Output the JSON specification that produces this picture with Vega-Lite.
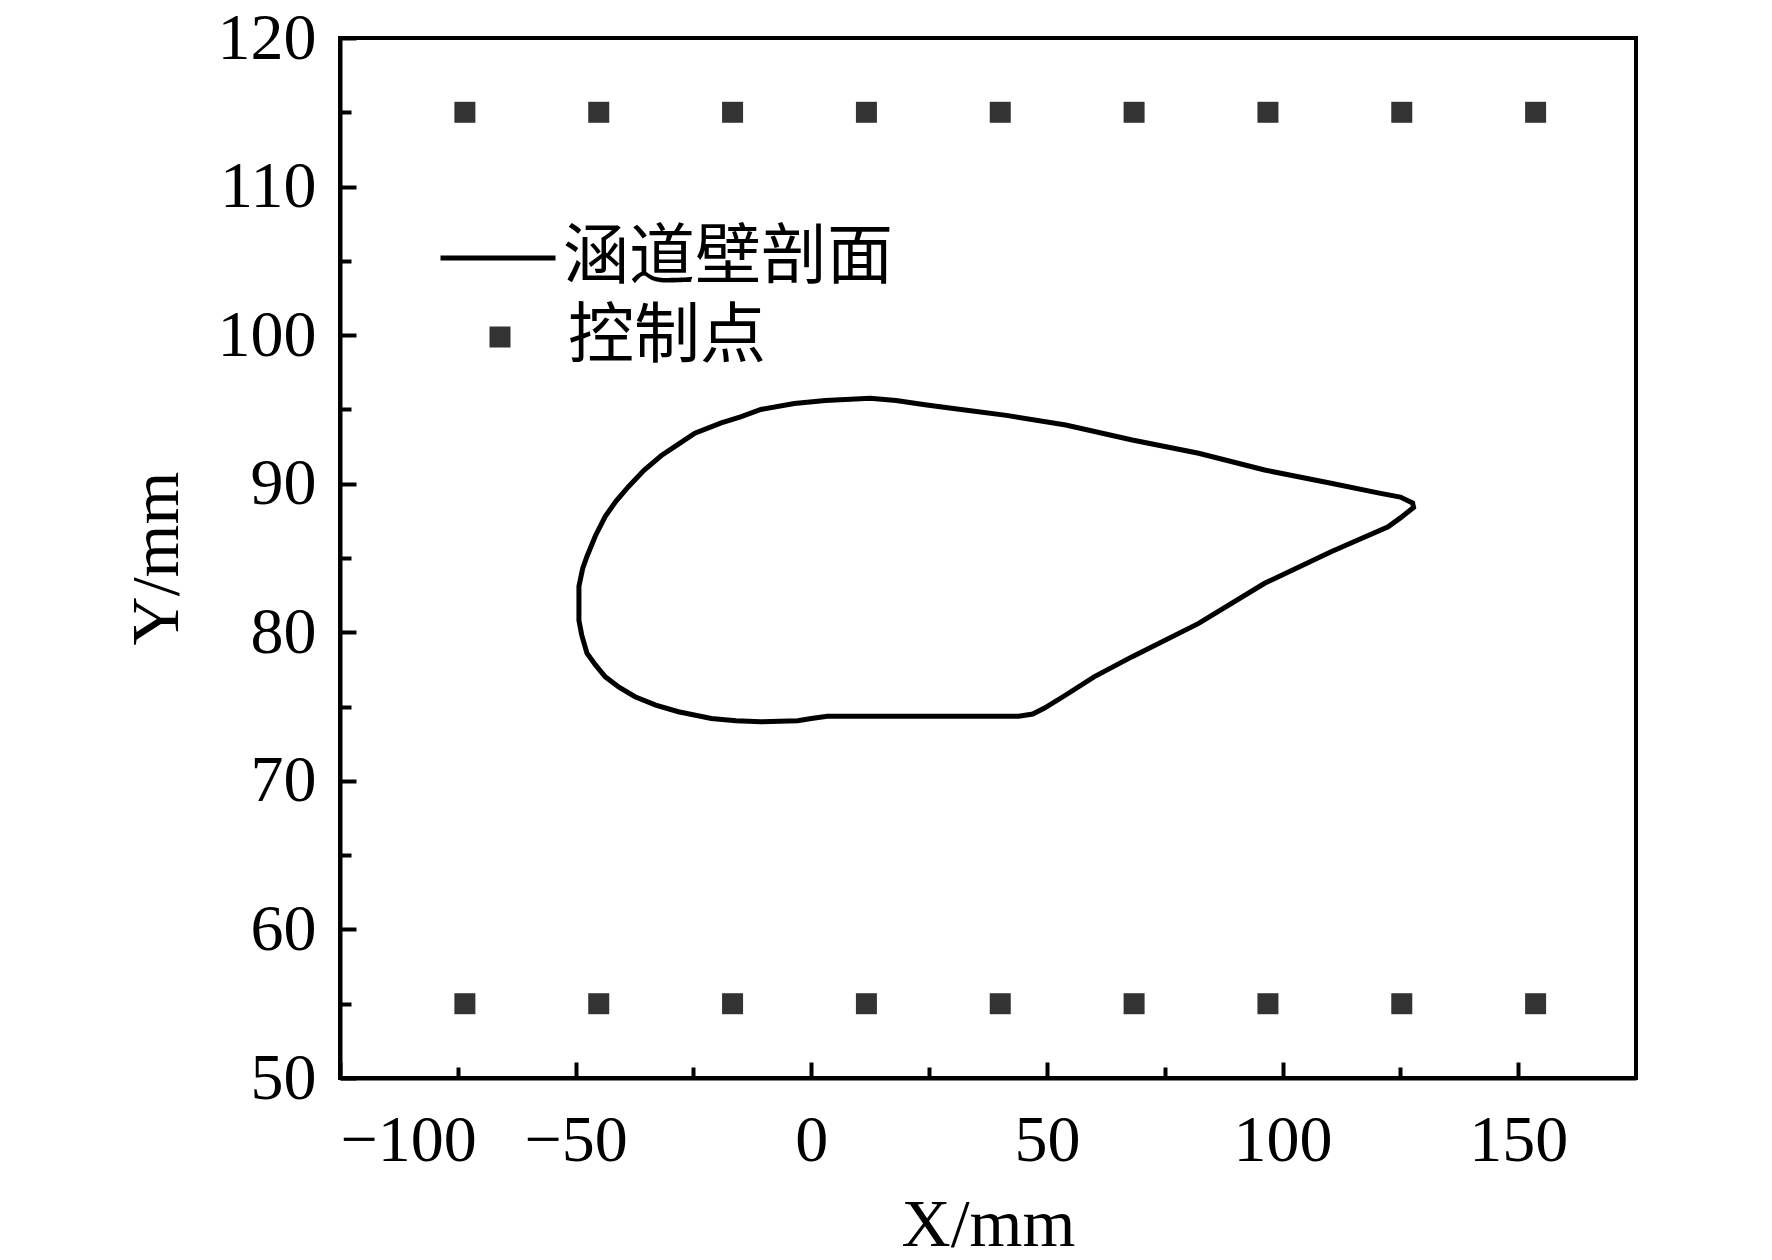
{
  "$schema": "https://vega.github.io/schema/vega-lite/v6.json",
  "width": 1296,
  "height": 1040,
  "autosize": {"type": "none"},
  "padding": {"left": 340, "top": 38, "right": 136, "bottom": 182},
  "background": "white",
  "config": {
    "view": {"stroke": "black", "strokeWidth": 4},
    "axis": {
      "grid": false,
      "domainColor": "black",
      "domainWidth": 4,
      "tickColor": "black",
      "tickWidth": 4,
      "labelFont": "Liberation Serif",
      "labelFontSize": 66,
      "labelColor": "black",
      "titleFont": "Liberation Serif",
      "titleFontSize": 68,
      "titleFontWeight": "normal",
      "titleColor": "black"
    },
    "legend": {
      "labelFont": "Noto Sans CJK SC",
      "labelFontSize": 66,
      "labelColor": "black",
      "labelLimit": 0,
      "padding": 0
    }
  },
  "datasets": {
    "wall": [
      {"i": 1, "x": -49.3, "y": 82.0, "s": "涵道壁剖面"},
      {"i": 2, "x": -49.3, "y": 83.1, "s": "涵道壁剖面"},
      {"i": 3, "x": -48.5, "y": 84.3, "s": "涵道壁剖面"},
      {"i": 4, "x": -47.6, "y": 85.1, "s": "涵道壁剖面"},
      {"i": 5, "x": -45.8, "y": 86.5, "s": "涵道壁剖面"},
      {"i": 6, "x": -43.7, "y": 87.8, "s": "涵道壁剖面"},
      {"i": 7, "x": -41.5, "y": 88.8, "s": "涵道壁剖面"},
      {"i": 8, "x": -38.8, "y": 89.8, "s": "涵道壁剖面"},
      {"i": 9, "x": -35.5, "y": 90.9, "s": "涵道壁剖面"},
      {"i": 10, "x": -31.8, "y": 91.9, "s": "涵道壁剖面"},
      {"i": 11, "x": -28.5, "y": 92.6, "s": "涵道壁剖面"},
      {"i": 12, "x": -24.7, "y": 93.4, "s": "涵道壁剖面"},
      {"i": 13, "x": -19.1, "y": 94.1, "s": "涵道壁剖面"},
      {"i": 14, "x": -15.0, "y": 94.5, "s": "涵道壁剖面"},
      {"i": 15, "x": -10.7, "y": 95.0, "s": "涵道壁剖面"},
      {"i": 16, "x": -3.6, "y": 95.4, "s": "涵道壁剖面"},
      {"i": 17, "x": 3.0, "y": 95.6, "s": "涵道壁剖面"},
      {"i": 18, "x": 12.5, "y": 95.75, "s": "涵道壁剖面"},
      {"i": 19, "x": 18.0, "y": 95.6, "s": "涵道壁剖面"},
      {"i": 20, "x": 24.5, "y": 95.3, "s": "涵道壁剖面"},
      {"i": 21, "x": 33.0, "y": 94.95, "s": "涵道壁剖面"},
      {"i": 22, "x": 41.4, "y": 94.6, "s": "涵道壁剖面"},
      {"i": 23, "x": 54.0, "y": 93.95, "s": "涵道壁剖面"},
      {"i": 24, "x": 68.1, "y": 92.94, "s": "涵道壁剖面"},
      {"i": 25, "x": 82.2, "y": 92.05, "s": "涵道壁剖面"},
      {"i": 26, "x": 96.2, "y": 90.92, "s": "涵道壁剖面"},
      {"i": 27, "x": 110.3, "y": 90.03, "s": "涵道壁剖面"},
      {"i": 28, "x": 120.8, "y": 89.35, "s": "涵道壁剖面"},
      {"i": 29, "x": 125.0, "y": 89.1, "s": "涵道壁剖面"},
      {"i": 30, "x": 127.6, "y": 88.7, "s": "涵道壁剖面"},
      {"i": 31, "x": 127.8, "y": 88.4, "s": "涵道壁剖面"},
      {"i": 32, "x": 125.0, "y": 87.7, "s": "涵道壁剖面"},
      {"i": 33, "x": 122.4, "y": 87.1, "s": "涵道壁剖面"},
      {"i": 34, "x": 110.3, "y": 85.42, "s": "涵道壁剖面"},
      {"i": 35, "x": 96.2, "y": 83.3, "s": "涵道壁剖面"},
      {"i": 36, "x": 82.2, "y": 80.6, "s": "涵道壁剖面"},
      {"i": 37, "x": 68.1, "y": 78.36, "s": "涵道壁剖面"},
      {"i": 38, "x": 60.0, "y": 77.0, "s": "涵道壁剖面"},
      {"i": 39, "x": 54.0, "y": 75.78, "s": "涵道壁剖面"},
      {"i": 40, "x": 49.5, "y": 74.9, "s": "涵道壁剖面"},
      {"i": 41, "x": 47.0, "y": 74.5, "s": "涵道壁剖面"},
      {"i": 42, "x": 44.0, "y": 74.35, "s": "涵道壁剖面"},
      {"i": 43, "x": 30.0, "y": 74.35, "s": "涵道壁剖面"},
      {"i": 44, "x": 15.0, "y": 74.35, "s": "涵道壁剖面"},
      {"i": 45, "x": 3.4, "y": 74.35, "s": "涵道壁剖面"},
      {"i": 46, "x": 0.0, "y": 74.2, "s": "涵道壁剖面"},
      {"i": 47, "x": -2.9, "y": 74.05, "s": "涵道壁剖面"},
      {"i": 48, "x": -10.7, "y": 73.98, "s": "涵道壁剖面"},
      {"i": 49, "x": -16.0, "y": 74.05, "s": "涵道壁剖面"},
      {"i": 50, "x": -21.2, "y": 74.2, "s": "涵道壁剖面"},
      {"i": 51, "x": -28.2, "y": 74.65, "s": "涵道壁剖面"},
      {"i": 52, "x": -33.0, "y": 75.1, "s": "涵道壁剖面"},
      {"i": 53, "x": -37.4, "y": 75.66, "s": "涵道壁剖面"},
      {"i": 54, "x": -40.8, "y": 76.3, "s": "涵道壁剖面"},
      {"i": 55, "x": -43.7, "y": 77.0, "s": "涵道壁剖面"},
      {"i": 56, "x": -45.8, "y": 77.8, "s": "涵道壁剖面"},
      {"i": 57, "x": -47.6, "y": 78.6, "s": "涵道壁剖面"},
      {"i": 58, "x": -48.7, "y": 79.8, "s": "涵道壁剖面"},
      {"i": 59, "x": -49.3, "y": 80.8, "s": "涵道壁剖面"},
      {"i": 60, "x": -49.3, "y": 82.0, "s": "涵道壁剖面"}
    ],
    "ctrl": [
      {"x": -73.5, "y": 115, "s": "控制点"},
      {"x": -45.1, "y": 115, "s": "控制点"},
      {"x": -16.7, "y": 115, "s": "控制点"},
      {"x": 11.7, "y": 115, "s": "控制点"},
      {"x": 40.1, "y": 115, "s": "控制点"},
      {"x": 68.5, "y": 115, "s": "控制点"},
      {"x": 96.9, "y": 115, "s": "控制点"},
      {"x": 125.3, "y": 115, "s": "控制点"},
      {"x": 153.7, "y": 115, "s": "控制点"},
      {"x": -73.5, "y": 55, "s": "控制点"},
      {"x": -45.1, "y": 55, "s": "控制点"},
      {"x": -16.7, "y": 55, "s": "控制点"},
      {"x": 11.7, "y": 55, "s": "控制点"},
      {"x": 40.1, "y": 55, "s": "控制点"},
      {"x": 68.5, "y": 55, "s": "控制点"},
      {"x": 96.9, "y": 55, "s": "控制点"},
      {"x": 125.3, "y": 55, "s": "控制点"},
      {"x": 153.7, "y": 55, "s": "控制点"}
    ]
  },
  "layer": [
    {
      "data": {"name": "wall"},
      "mark": {"type": "line", "strokeWidth": 5, "interpolate": "linear"},
      "encoding": {
        "x": {
          "field": "x", "type": "quantitative",
          "scale": {"domain": [-100, 175], "nice": false, "zero": false},
          "axis": {
            "title": "X/mm",
            "values": [-100, -75, -50, -25, 0, 25, 50, 75, 100, 125, 150],
            "labelExpr": "datum.value % 50 === 0 ? datum.label : ''",
            "tickSize": {"condition": {"test": "datum.value % 50 === 0", "value": -16}, "value": -11},
            "labelPadding": 46,
            "titlePadding": 18
          }
        },
        "y": {
          "field": "y", "type": "quantitative",
          "scale": {"domain": [50, 120], "nice": false, "zero": false},
          "axis": {
            "title": "Y/mm",
            "values": [50, 55, 60, 65, 70, 75, 80, 85, 90, 95, 100, 105, 110, 115, 120],
            "labelExpr": "datum.value % 10 === 0 ? datum.label : ''",
            "tickSize": {"condition": {"test": "datum.value % 10 === 0", "value": -16}, "value": -11},
            "labelPadding": 40,
            "titlePadding": 26
          }
        },
        "order": {"field": "i", "type": "quantitative"},
        "color": {
          "field": "s", "type": "nominal",
          "scale": {"range": ["black"]},
          "legend": {
            "orient": "none", "legendX": 98, "legendY": 160, "title": null,
            "symbolType": "stroke", "symbolSize": 13225, "symbolStrokeWidth": 5,
            "symbolStrokeColor": "black", "labelOffset": 5
          }
        }
      }
    },
    {
      "data": {"name": "ctrl"},
      "mark": {"type": "point", "filled": true, "opacity": 1, "size": 441},
      "encoding": {
        "x": {"field": "x", "type": "quantitative"},
        "y": {"field": "y", "type": "quantitative"},
        "color": {"value": "#333333"},
        "shape": {
          "field": "s", "type": "nominal",
          "scale": {"range": ["square"]},
          "legend": {
            "orient": "none", "legendX": 127, "legendY": 266, "title": null,
            "symbolSize": 441, "symbolFillColor": "#333333", "symbolStrokeWidth": 0,
            "symbolOpacity": 1, "labelOffset": 35
          }
        }
      }
    }
  ]
}
